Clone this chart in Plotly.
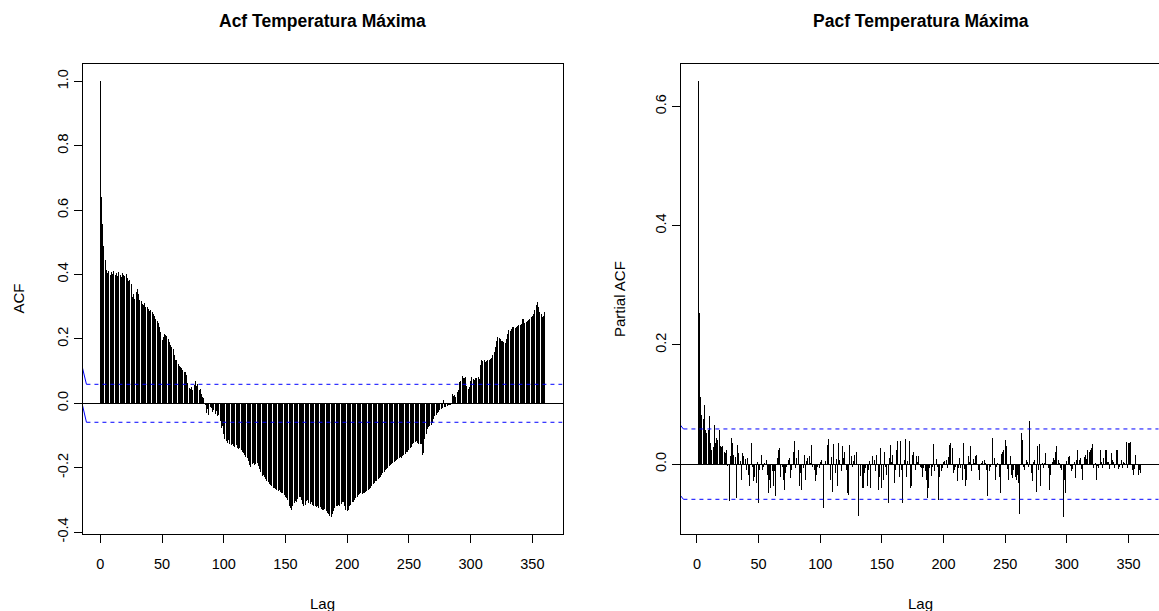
import plotly.graph_objects as go

# ---------------- data ----------------
acf_lags = list(range(0, 361))
acf_vals = [
    1.000, 0.642, 0.557, 0.490, 0.446, 0.415, 0.405, 0.412, 0.400, 0.408,
    0.402, 0.410, 0.398, 0.404, 0.395, 0.408, 0.400, 0.392, 0.405, 0.398,
    0.395, 0.402, 0.388, 0.380, 0.384, 0.372, 0.330, 0.338, 0.325, 0.345,
    0.355, 0.340, 0.322, 0.318, 0.310, 0.305, 0.312, 0.300, 0.298, 0.292,
    0.288, 0.290, 0.283, 0.276, 0.270, 0.262, 0.255, 0.248, 0.236, 0.222,
    0.198, 0.205, 0.215, 0.212, 0.208, 0.200, 0.190, 0.182, 0.176, 0.168,
    0.150, 0.136, 0.133, 0.122, 0.115, 0.112, 0.110, 0.104, 0.098, 0.097,
    0.088, 0.062, 0.048, 0.044, 0.050, 0.040, 0.056, 0.068, 0.055, 0.060,
    0.040, 0.045, 0.030, 0.020, 0.018, -0.004, -0.030, -0.018, -0.035, -0.012,
    -0.015, -0.028, -0.020, -0.032, -0.025, -0.040, -0.035, -0.055, -0.078, -0.070,
    -0.095, -0.110, -0.118, -0.122, -0.115, -0.125, -0.130, -0.128, -0.132, -0.135,
    -0.130, -0.138, -0.142, -0.140, -0.146, -0.150, -0.155, -0.160, -0.166, -0.170,
    -0.180, -0.192, -0.198, -0.190, -0.185, -0.192, -0.188, -0.186, -0.195, -0.205,
    -0.215, -0.225, -0.222, -0.228, -0.235, -0.240, -0.245, -0.250, -0.255, -0.258,
    -0.262, -0.264, -0.266, -0.270, -0.272, -0.268, -0.275, -0.278, -0.280, -0.285,
    -0.290, -0.295, -0.300, -0.318, -0.325, -0.332, -0.320, -0.310, -0.305, -0.306,
    -0.298, -0.292, -0.290, -0.300, -0.312, -0.318, -0.316, -0.305, -0.300, -0.310,
    -0.312, -0.308, -0.315, -0.320, -0.318, -0.322, -0.320, -0.325, -0.322, -0.328,
    -0.330, -0.332, -0.328, -0.335, -0.340, -0.345, -0.350, -0.352, -0.345, -0.335,
    -0.325, -0.320, -0.318, -0.315, -0.320, -0.312, -0.308, -0.306, -0.320, -0.330,
    -0.335, -0.332, -0.320, -0.315, -0.308, -0.306, -0.300, -0.295, -0.290, -0.285,
    -0.282, -0.280, -0.282, -0.278, -0.280, -0.275, -0.272, -0.270, -0.266, -0.264,
    -0.258, -0.252, -0.248, -0.242, -0.240, -0.236, -0.232, -0.228, -0.223, -0.218,
    -0.212, -0.208, -0.204, -0.200, -0.196, -0.192, -0.190, -0.186, -0.182, -0.178,
    -0.176, -0.172, -0.170, -0.168, -0.171, -0.165, -0.160, -0.156, -0.152, -0.150,
    -0.146, -0.140, -0.135, -0.128, -0.124, -0.120, -0.118, -0.122, -0.126, -0.128,
    -0.126, -0.160, -0.155, -0.110, -0.095, -0.080, -0.073, -0.070, -0.068, -0.060,
    -0.050, -0.040, -0.036, -0.030, -0.027, -0.022, -0.018, -0.015, 0.011, -0.012,
    -0.011, -0.008, -0.006, -0.006, -0.004, 0.028, 0.022, 0.025, 0.020, 0.035,
    0.040, 0.066, 0.070, 0.084, 0.080, 0.078, 0.082, 0.055, 0.045, 0.050,
    0.070, 0.082, 0.075, 0.071, 0.078, 0.080, 0.082, 0.076, 0.120, 0.135,
    0.130, 0.135, 0.128, 0.132, 0.133, 0.135, 0.138, 0.142, 0.149, 0.160,
    0.175, 0.195, 0.206, 0.204, 0.200, 0.195, 0.192, 0.190, 0.188, 0.200,
    0.215, 0.228, 0.226, 0.232, 0.236, 0.237, 0.235, 0.238, 0.240, 0.242,
    0.242, 0.245, 0.262, 0.263, 0.250, 0.252, 0.255, 0.260, 0.262, 0.268,
    0.272, 0.278, 0.290, 0.305, 0.314, 0.300, 0.283, 0.278, 0.268, 0.272, 0.285,
]

pacf_lags = list(range(1, 361))
pacf_vals = [
    0.642, 0.253, 0.113, 0.083, 0.075, 0.099, 0.057, 0.052, 0.058, 0.080,
    0.035, 0.024, 0.028, 0.066, 0.035, 0.044, 0.040, 0.057, 0.030, 0.028,
    0.031, 0.021, 0.018, 0.024, -0.003, -0.062, 0.013, 0.044, 0.035, 0.016,
    0.012, -0.057, 0.032, 0.018, 0.005, -0.026, 0.018, 0.013, 0.008, -0.009,
    0.010, -0.018, -0.037, 0.035, -0.005, -0.029, -0.021, -0.032, 0.004, -0.066,
    -0.009, 0.016, -0.009, -0.004, 0.002, 0.007, -0.018, -0.049, -0.026, -0.040,
    -0.012, -0.037, -0.012, -0.054, 0.010, 0.024, 0.027, -0.021, -0.005, -0.026,
    -0.043, -0.015, -0.005, 0.007, 0.010, -0.023, -0.010, 0.021, 0.038, -0.007,
    0.011, 0.024, -0.037, -0.015, -0.043, -0.007, 0.016, -0.026, 0.005, 0.010,
    0.013, 0.002, 0.032, -0.004, -0.009, -0.029, -0.018, -0.004, -0.007, 0.003,
    0.007, -0.001, -0.074, 0.005, 0.000, 0.032, 0.042, -0.026, 0.012, -0.046,
    0.034, -0.015, 0.008, -0.037, 0.035, 0.007, -0.012, 0.030, 0.010, 0.021,
    -0.010, -0.049, -0.051, 0.032, 0.013, -0.004, 0.006, 0.016, 0.021, -0.002,
    -0.087, 0.000, -0.020, -0.040, -0.040, -0.015, -0.007, -0.037, -0.009, 0.005,
    -0.040, 0.014, 0.000, 0.007, -0.012, 0.016, -0.043, -0.021, 0.027, -0.040,
    -0.026, 0.021, -0.005, -0.018, -0.065, 0.010, 0.032, 0.004, 0.016, -0.032,
    -0.010, 0.024, 0.038, -0.021, 0.038, -0.009, -0.065, 0.007, 0.042, -0.021,
    0.005, 0.038, -0.040, -0.037, 0.016, 0.021, -0.010, 0.013, 0.004, 0.013,
    -0.005, -0.007, -0.021, -0.007, -0.012, -0.026, -0.057, -0.040, -0.007, -0.020,
    -0.004, 0.034, -0.012, 0.008, -0.004, -0.060, -0.021, -0.012, -0.007, 0.004,
    0.006, 0.007, -0.007, 0.012, 0.032, 0.035, 0.027, -0.015, -0.010, -0.004,
    -0.029, -0.007, 0.010, -0.007, -0.026, 0.035, -0.008, -0.037, -0.026, 0.013,
    0.004, 0.030, -0.012, 0.008, 0.002, 0.013, 0.016, -0.010, -0.026, -0.001,
    0.002, 0.005, 0.007, 0.002, -0.009, -0.054, -0.012, -0.004, -0.001, 0.044,
    0.010, -0.026, -0.004, 0.002, -0.021, -0.049, 0.017, 0.021, 0.024, 0.041,
    0.030, -0.008, -0.026, 0.013, -0.018, -0.023, -0.010, -0.021, -0.026, -0.018,
    -0.032, -0.083, 0.053, 0.041, -0.005, -0.009, 0.007, 0.004, -0.004, 0.073,
    -0.015, -0.029, 0.003, 0.007, -0.046, 0.030, -0.010, 0.033, -0.037, 0.002,
    -0.007, 0.002, 0.019, -0.001, -0.007, -0.043, -0.018, 0.004, 0.010, 0.007,
    0.021, 0.031, 0.007, 0.002, -0.007, -0.010, -0.088, -0.026, -0.049, 0.005,
    0.012, 0.014, -0.003, -0.012, -0.008, 0.003, -0.023, 0.007, 0.023, 0.007,
    0.010, -0.008, -0.026, 0.012, 0.016, 0.008, 0.024, 0.021, 0.024, 0.027,
    0.034, -0.007, 0.002, -0.026, -0.003, -0.007, 0.024, 0.004, -0.007, 0.010,
    0.023, 0.024, 0.004, 0.003, -0.008, 0.019, 0.007, 0.004, -0.007, 0.023,
    0.024, -0.008, -0.005, 0.007, -0.007, 0.004, 0.002, 0.037, -0.007, 0.035,
    0.035, 0.037, -0.009, -0.018, -0.008, 0.016, 0.001, -0.018, -0.010, -0.015,
]

ci_level = 0.059
# short sloped lead-in of the confidence lines at the left edge
acf_ci_lead_lags = [-16.0, -11.2]
acf_ci_lead_upper = [0.135, 0.059]
acf_ci_lead_lower = [0.020, -0.059]
pacf_ci_lead_lags = [-14.0, -11.0]
pacf_ci_lead_upper = [0.067, 0.059]
pacf_ci_lead_lower = [-0.051, -0.059]

x_ticks = [0, 50, 100, 150, 200, 250, 300, 350]
acf_yticks = [-0.4, -0.2, 0.0, 0.2, 0.4, 0.6, 0.8, 1.0]
acf_yticklabels = ["-0.4", "-0.2", "0.0", "0.2", "0.4", "0.6", "0.8", "1.0"]
pacf_yticks = [0.0, 0.2, 0.4, 0.6]
pacf_yticklabels = ["0.0", "0.2", "0.4", "0.6"]

title_acf = "Acf Temperatura Máxima"
title_pacf = "Pacf Temperatura Máxima"

# ---------------- helpers ----------------
def stems(lags, vals):
    xs, ys = [], []
    for l, v in zip(lags, vals):
        xs += [l, l, None]
        ys += [0, v, None]
    return xs, ys

def r_range(vals, ext=0.04):
    lo, hi = min(vals), max(vals)
    d = (hi - lo) * ext
    return [lo - d, hi + d]

W, H = 1159, 611
FONT = "Liberation Sans, Arial, Helvetica, sans-serif"

acf_xr = r_range(acf_lags)
pacf_xr = r_range(pacf_lags)
acf_yr = r_range(acf_vals + [ci_level, -ci_level])
pacf_yr = r_range(pacf_vals + [ci_level, -ci_level])

fig = go.Figure()

# ACF
ax, ay = stems(acf_lags, acf_vals)
fig.add_trace(go.Scatter(x=ax, y=ay, mode="lines", line=dict(color="black", width=1),
                         xaxis="x", yaxis="y", hoverinfo="skip", showlegend=False,
                         name="acfstems"))
for lead in (acf_ci_lead_upper, acf_ci_lead_lower):
    fig.add_trace(go.Scatter(x=acf_ci_lead_lags, y=lead, mode="lines",
                             line=dict(color="blue", width=1), xaxis="x", yaxis="y",
                             showlegend=False, hoverinfo="skip"))
for s in (1, -1):
    fig.add_trace(go.Scatter(x=[acf_ci_lead_lags[-1], acf_xr[1] + 5], y=[s * ci_level] * 2,
                             mode="lines", line=dict(color="blue", width=1, dash="4px,4px"),
                             xaxis="x", yaxis="y", showlegend=False, hoverinfo="skip"))

# PACF
px_, py_ = stems(pacf_lags, pacf_vals)
fig.add_trace(go.Scatter(x=px_, y=py_, mode="lines", line=dict(color="black", width=1),
                         xaxis="x2", yaxis="y2", hoverinfo="skip", showlegend=False,
                         name="pacfstems"))
for lead in (pacf_ci_lead_upper, pacf_ci_lead_lower):
    fig.add_trace(go.Scatter(x=pacf_ci_lead_lags, y=lead, mode="lines",
                             line=dict(color="blue", width=1), xaxis="x2", yaxis="y2",
                             showlegend=False, hoverinfo="skip"))
for s in (1, -1):
    fig.add_trace(go.Scatter(x=[pacf_ci_lead_lags[-1], pacf_xr[1] + 5], y=[s * ci_level] * 2,
                             mode="lines", line=dict(color="blue", width=1, dash="4px,4px"),
                             xaxis="x2", yaxis="y2", showlegend=False, hoverinfo="skip"))

tickfont = dict(family=FONT, size=14.5, color="black")
common_x = dict(showgrid=False, zeroline=False, showline=True, mirror=True,
                linecolor="black", linewidth=1, ticks="outside", ticklen=8,
                tickcolor="black", tickwidth=1, tickvals=x_ticks, tickfont=tickfont,
                ticklabelstandoff=9, automargin=False)
common_y = dict(showgrid=False, zeroline=True, zerolinecolor="black", zerolinewidth=1,
                showline=True, mirror=True, linecolor="black", linewidth=1,
                ticks="outside", ticklen=8, tickcolor="black", tickwidth=1,
                tickfont=tickfont, tickangle=-90, automargin=False)

y_dom = [(H - 534) / H, (H - 64) / H]

fig.update_layout(
    width=W, height=H, autosize=False,
    margin=dict(l=0, r=0, t=0, b=0, pad=0),
    paper_bgcolor="white", plot_bgcolor="white",
    xaxis=dict(domain=[82.5 / W, 562.5 / W], range=acf_xr, anchor="y", **common_x),
    yaxis=dict(domain=y_dom, range=acf_yr, anchor="x", tickvals=acf_yticks,
               ticktext=acf_yticklabels, **common_y),
    xaxis2=dict(domain=[680.5 / W, 1158.5 / W], range=pacf_xr, anchor="y2", **common_x),
    yaxis2=dict(domain=y_dom, range=pacf_yr, anchor="x2", tickvals=pacf_yticks,
                ticktext=pacf_yticklabels, **common_y),
)

def ann(text, x, y, size, bold=False, angle=0):
    fig.add_annotation(text=f"<b>{text}</b>" if bold else text,
                       x=x / W, y=1 - y / H, xref="paper", yref="paper",
                       showarrow=False, textangle=angle, xanchor="center", yanchor="middle",
                       font=dict(family=FONT, size=size, color="black"))

ann(title_acf, 322.5, 21, 17.5, bold=True)
ann(title_pacf, 920.5, 21, 17.5, bold=True)
ann("Lag", 322.5, 603, 15)
ann("Lag", 920.5, 603, 15)
ann("ACF", 18.5, 299, 15, angle=-90)
ann("Partial ACF", 620, 299, 15, angle=-90)

# render the stems pixel-snapped, as R's device does
crisp_js = (
    "document.querySelectorAll('.scatterlayer .trace').forEach(function(t, i){"
    "  if (i === 0 || i === 5) {"
    "    t.querySelectorAll('path.js-line').forEach(function(p){"
    "      p.style.shapeRendering = 'crispEdges'; });"
    "  }"
    "});"
)

fig.write_html("out.html", post_script=crisp_js)
